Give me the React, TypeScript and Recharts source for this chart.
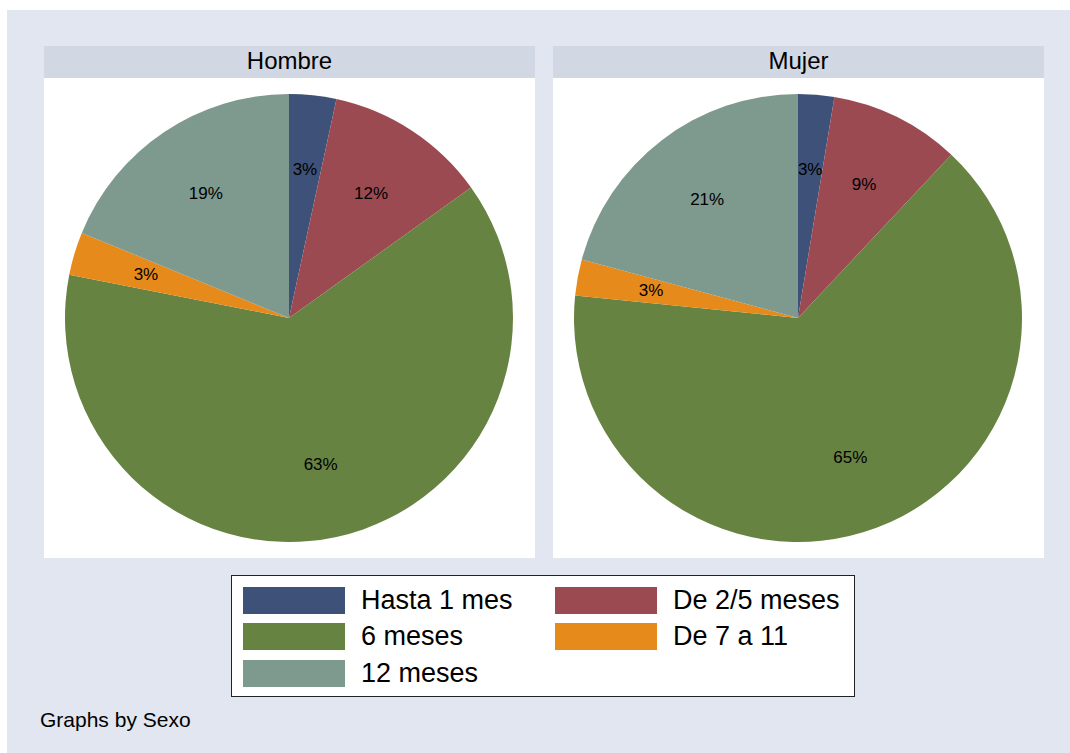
import React from 'react';
import { PieChart, Pie, Cell } from 'recharts';

const categories = ['Hasta 1 mes', 'De 2/5 meses', '6 meses', 'De 7 a 11', '12 meses'];
const colors = ['#3e5179', '#9b4a51', '#678342', '#e68a1b', '#7e998e'];
const hombreValues = [3.4, 11.7, 63.0, 3.1, 18.8];
const mujerValues = [2.6, 9.4, 64.6, 2.6, 20.8];
const panelTitles = ['Hombre', 'Mujer'];

const FONT = 'Arial, "Liberation Sans", Helvetica, sans-serif';
const RAD = Math.PI / 180;

const PctLabel = (props: any) => {
  const { cx, cy, midAngle, outerRadius, percent } = props;
  const r = outerRadius * 0.667;
  const x = cx + r * Math.cos(-midAngle * RAD);
  const y = cy + r * Math.sin(-midAngle * RAD);
  return (
    <text
      x={x}
      y={y}
      fill="#000"
      fontSize={17}
      fontFamily={FONT}
      textAnchor="middle"
      dominantBaseline="central"
    >
      {Math.round(percent * 100)}%
    </text>
  );
};

const Panel: React.FC<{ title: string; values: number[]; left: number }> = ({ title, values, left }) => {
  const data = categories.map((name, i) => ({ name, value: values[i] }));
  return (
    <div style={{ position: 'absolute', left, top: 46, width: 491, height: 512 }}>
      <div
        style={{
          height: 32,
          background: '#d2d8e3',
          textAlign: 'center',
          fontSize: 24,
          lineHeight: '30px',
          fontFamily: FONT,
          color: '#000',
        }}
      >
        {title}
      </div>
      <div style={{ background: '#fff', width: 491, height: 480 }}>
        <PieChart width={491} height={480} margin={{ top: 0, right: 0, bottom: 0, left: 0 }}>
          <Pie
            data={data}
            dataKey="value"
            nameKey="name"
            cx={245}
            cy={240}
            outerRadius={224}
            startAngle={90}
            endAngle={-270}
            stroke="none"
            label={<PctLabel />}
            labelLine={false}
            isAnimationActive={false}
          >
            {data.map((d, i) => (
              <Cell key={d.name} fill={colors[i]} />
            ))}
          </Pie>
        </PieChart>
      </div>
    </div>
  );
};

const LegendItem: React.FC<{ i: number; left: number; top: number }> = ({ i, left, top }) => (
  <div style={{ position: 'absolute', left, top, display: 'flex', alignItems: 'center', height: 27 }}>
    <div style={{ width: 102, height: 27, background: colors[i] }} />
    <span style={{ marginLeft: 16, fontSize: 27, fontFamily: FONT, color: '#000', whiteSpace: 'nowrap' }}>
      {categories[i]}
    </span>
  </div>
);

export default function App() {
  return (
    <div
      style={{
        position: 'absolute',
        left: 0,
        top: 0,
        width: 1070,
        height: 753,
        background: '#fff',
        overflow: 'hidden',
      }}
    >
      <div style={{ position: 'absolute', left: 7, top: 10, width: 1063, height: 743, background: '#e1e6f0' }} />
      <Panel title={panelTitles[0]} values={hombreValues} left={44} />
      <Panel title={panelTitles[1]} values={mujerValues} left={553} />
      <div
        style={{
          position: 'absolute',
          left: 231,
          top: 575,
          width: 622,
          height: 120,
          background: '#fff',
          border: '1.5px solid #222',
        }}
      >
        <LegendItem i={0} left={11} top={11} />
        <LegendItem i={1} left={323} top={11} />
        <LegendItem i={2} left={11} top={47} />
        <LegendItem i={3} left={323} top={47} />
        <LegendItem i={4} left={11} top={84} />
      </div>
      <div
        style={{
          position: 'absolute',
          left: 40,
          top: 708,
          fontSize: 21,
          fontFamily: FONT,
          color: '#000',
        }}
      >
        Graphs by Sexo
      </div>
    </div>
  );
}
